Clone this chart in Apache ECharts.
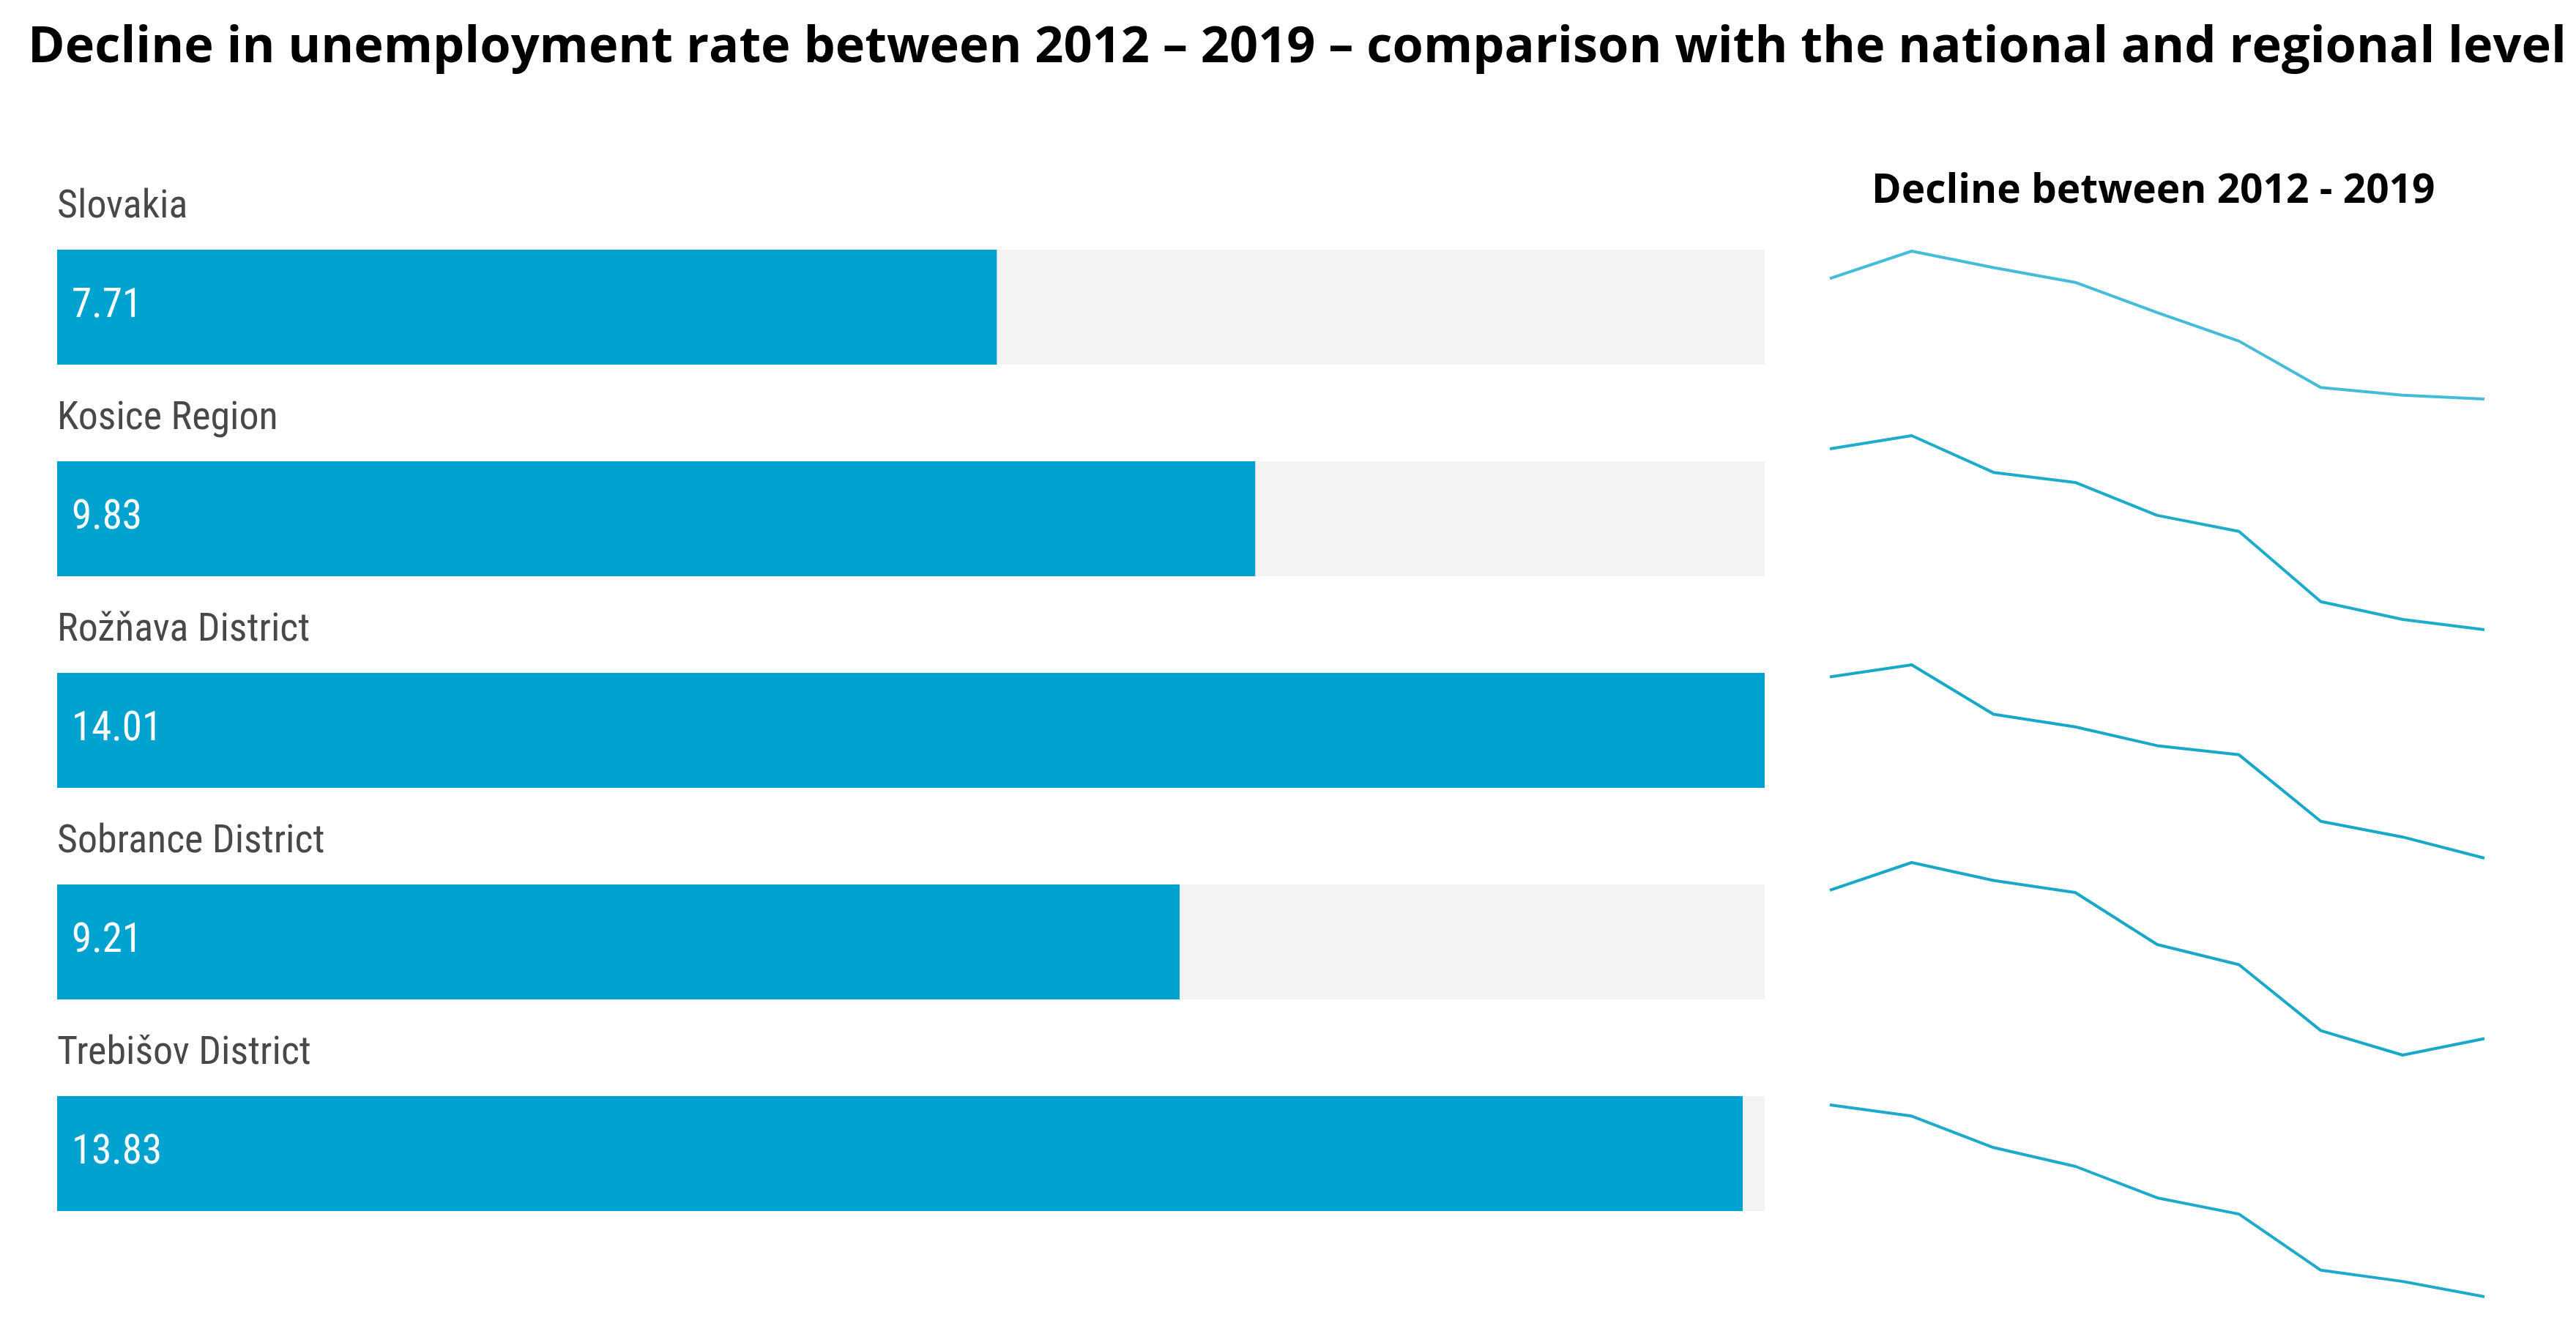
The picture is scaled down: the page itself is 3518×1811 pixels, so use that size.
<!DOCTYPE html>
<html>
<head>
<meta charset="utf-8">
<script src="https://cdn.jsdelivr.net/npm/echarts@6/dist/echarts.min.js"></script>
<style>
html,body{margin:0;padding:0;background:#fff;}
#c{width:3518px;height:1811px;}
</style>
</head>
<body>
<div id="c"></div>
<script>
// ---- data ----
const categories = ['Slovakia', 'Kosice Region', 'Rožňava District', 'Sobrance District', 'Trebišov District'];
const declineValues = [7.71, 9.83, 14.01, 9.21, 13.83];
const years = ['2011', '2012', '2013', '2014', '2015', '2016', '2017', '2018', '2019'];
// estimated unemployment-rate trends (read from sparkline shapes)
const trendSlovakia = [11.28, 12.71, 11.85, 11.08, 9.51, 8.02, 5.60, 5.20, 5.00];
const trendKosice   = [16.66, 17.33, 15.47, 14.96, 13.29, 12.48, 8.92, 8.02, 7.50];
const trendRoznava  = [25.13, 26.01, 22.43, 21.51, 20.15, 19.49, 14.67, 13.53, 12.00];
const trendSobrance = [16.76, 18.21, 17.27, 16.64, 13.92, 12.87, 9.42, 8.14, 9.00];
const trendTrebisov = [25.69, 24.83, 22.42, 20.98, 18.57, 17.33, 13.03, 12.17, 11.00];
const trends = [trendSlovakia, trendKosice, trendRoznava, trendSobrance, trendTrebisov];

// ---- layout ----
const labelFont = '"Liberation Sans Narrow", "Roboto Condensed", "Roboto", sans-serif';
const titleFont = '"Open Sans", "Noto Sans", sans-serif';
const sparkBoxes = [
  {top: 343, bottom: 545},
  {top: 595, bottom: 860},
  {top: 908, bottom: 1172},
  {top: 1178, bottom: 1441},
  {top: 1509, bottom: 1771}
];
const lineColors = ['#45bcd9', '#1facca', '#1aa8c9', '#1aa8c9', '#1faacb'];

const grids = [{left: 78, right: 1108, top: 275, height: 1445}];
const xAxes = [{gridIndex: 0, type: 'value', min: 0, max: 'dataMax', show: false}];
const yAxes = [{
  gridIndex: 0, type: 'category', data: categories, inverse: true,
  axisLine: {show: false}, axisTick: {show: false}, splitLine: {show: false},
  axisLabel: {show: false}
}];
const series = [{
  type: 'bar', xAxisIndex: 0, yAxisIndex: 0, data: declineValues,
  barWidth: 157, itemStyle: {color: '#00a3cf'},
  showBackground: true, backgroundStyle: {color: '#f3f3f3'},
  label: {
    show: true, position: 'insideLeft', distance: 20, color: '#fff',
    fontFamily: labelFont, fontSize: 55,
    formatter: p => p.value.toFixed(2)
  },
  silent: true
}, {
  // category names placed above each bar
  type: 'scatter', xAxisIndex: 0, yAxisIndex: 0,
  data: categories.map(c => [0, c]),
  symbolSize: 0, silent: true,
  label: {
    show: true, position: 'right', distance: 0, offset: [0, -136],
    align: 'left', verticalAlign: 'middle',
    color: '#1a1a1a', fontFamily: labelFont, fontSize: 54,
    formatter: p => p.value[1]
  }
}];

trends.forEach((t, i) => {
  const b = sparkBoxes[i];
  grids.push({left: 2499, width: 894, top: b.top, height: b.bottom - b.top});
  xAxes.push({gridIndex: i + 1, type: 'category', data: years, boundaryGap: false, show: false});
  yAxes.push({gridIndex: i + 1, type: 'value', min: 'dataMin', max: 'dataMax', show: false, scale: true});
  series.push({
    type: 'line', xAxisIndex: i + 1, yAxisIndex: i + 1, data: t,
    showSymbol: false, symbol: 'none', silent: true,
    lineStyle: {color: lineColors[i], width: 4}
  });
});

const chart = echarts.init(document.getElementById('c'), null, {renderer: 'canvas'});
chart.setOption({
  animation: false,
  backgroundColor: '#fff',
  title: [
    {
      text: 'Decline in unemployment rate between 2012 – 2019 – comparison with the national and regional level',
      left: 33, top: 26,
      textStyle: {fontFamily: titleFont, fontWeight: 'bold', fontSize: 68.5, color: '#000'}
    },
    {
      text: 'Decline between 2012 - 2019',
      left: 2551, top: 229,
      textStyle: {fontFamily: titleFont, fontWeight: 'bold', fontSize: 55, color: '#000'}
    }
  ],
  grid: grids,
  xAxis: xAxes,
  yAxis: yAxes,
  series: series
});
</script>
</body>
</html>
